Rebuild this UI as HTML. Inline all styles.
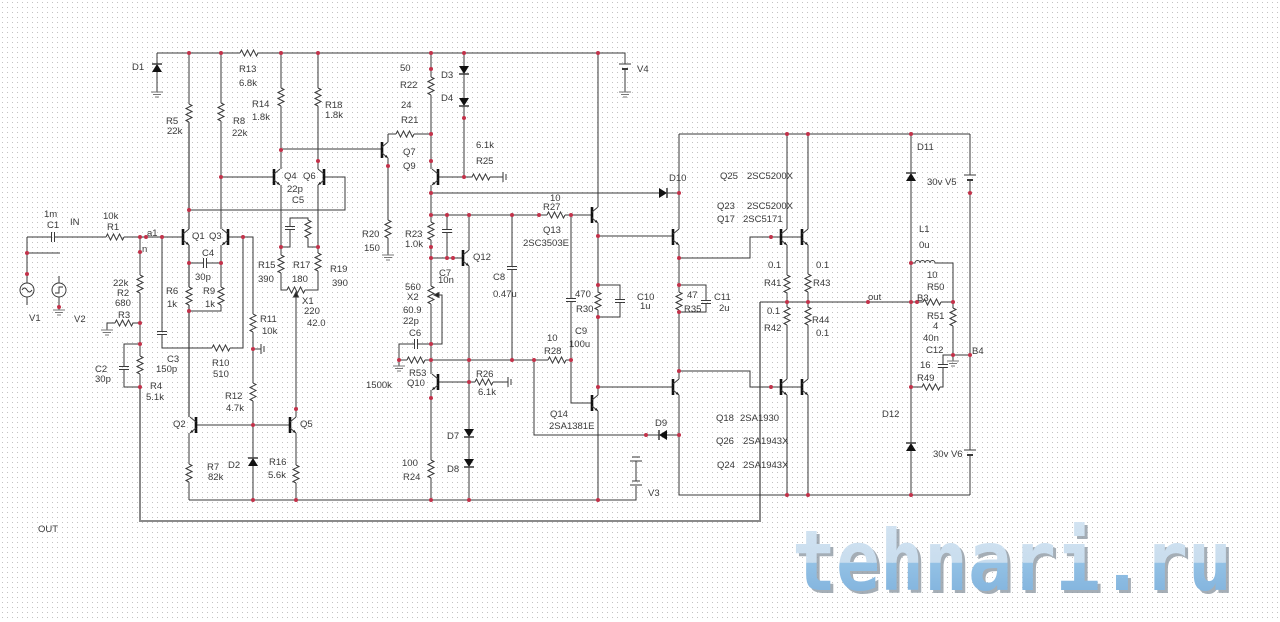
<!DOCTYPE html>
<html><head><meta charset="utf-8"><style>
html,body{margin:0;padding:0;background:#fff;}
svg{display:block;}
.t{font-family:"Liberation Sans",sans-serif;font-size:9.5px;fill:#3a3a3a;}
</style></head><body>
<svg width="1280" height="622" viewBox="0 0 1280 622" xmlns="http://www.w3.org/2000/svg">
<defs>
<pattern id="grid" width="5" height="5" patternUnits="userSpaceOnUse"><rect x="2" y="2" width="1" height="1" fill="#c2c2c2"/></pattern>
<path id="rv" d="M0,0 l3,1.5 -6,3 6,3 -6,3 6,3 -6,3 3,1.5"/>
<path id="rh" d="M0,0 l1.5,-3 3,6 3,-6 3,6 3,-6 3,6 1.5,-3"/>
<path id="cv" d="M-5,-1.5 H5 M-5,1.5 H5"/>
<path id="ch" d="M-1.5,-5 V5 M1.5,-5 V5"/>
<g id="dd"><path d="M-5,-4 L5,-4 L0,4 Z" fill="#111" stroke="none"/><path d="M-5,4 H5" stroke-width="1.5"/></g>
<g id="du"><path d="M-5,4 L5,4 L0,-4 Z" fill="#111" stroke="none"/><path d="M-5,-4 H5" stroke-width="1.5"/></g>
<g id="dr"><path d="M-4,-5 L-4,5 L4,0 Z" fill="#111" stroke="none"/><path d="M4,-5 V5" stroke-width="1.5"/></g>
<g id="dl"><path d="M4,-5 L4,5 L-4,0 Z" fill="#111" stroke="none"/><path d="M-4,-5 V5" stroke-width="1.5"/></g>
<path id="gnd" d="M-6,0 H6 M-4,2.5 H4 M-2,5 H2"/>
<path id="gc" d="M0,-5 V5 M3,-3 V3"/>
<g id="q"><path d="M0,-8 V8" stroke="#111" stroke-width="2.6"/><path d="M0,-3 L6,-8 M0,3 L6,8"/><path d="M6,8 L2.5,7 L4.5,5 Z" fill="#222" stroke="none"/></g>
<linearGradient id="wm" x1="0" y1="518" x2="0" y2="592" gradientUnits="userSpaceOnUse">
<stop offset="0" stop-color="#d3e4f2"/><stop offset="0.6" stop-color="#c9ddee"/><stop offset="0.61" stop-color="#93c1e5"/><stop offset="1" stop-color="#84b5de"/></linearGradient>
</defs>
<rect width="1280" height="622" fill="#fff"/>
<rect width="1280" height="622" fill="url(#grid)"/>

<!-- watermark -->
<g font-family="'DejaVu Sans Mono',monospace" font-weight="bold" font-size="84">
<text x="795" y="593" textLength="440" lengthAdjust="spacingAndGlyphs" fill="#8f9aa4" opacity="0.8">tehnari.ru</text>
<text x="792" y="590" textLength="440" lengthAdjust="spacingAndGlyphs" fill="url(#wm)">tehnari.ru</text>
</g>

<!-- thick grey wires -->
<g fill="none" stroke="#8a8a8a" stroke-width="2">
<path d="M140,387 V521 H760 V302"/>
<path d="M189,122 V229 M189,245 V287 M189,305 V417"/>
</g>

<!-- wires -->
<g fill="none" stroke="#3a3a3a" stroke-width="1">
<path d="M157,53 H240 M258,53 H625 V64 M625,69 V92"/>
<path d="M619,64 H631"/><path d="M622,69 H628" stroke-width="2"/>
<path d="M157,53 V64 M157,72 V92"/>
<path d="M189,53 V104 M189,433 V464 M189,482 V500"/>
<path d="M221,53 V103 M221,121 V229 M221,245 V287 M221,305 V311 H189"/>
<path d="M221,177 H274"/>
<path d="M189,263 H203.5 M206.5,263 H221"/>
<path d="M281,53 V88 M281,106 V169 M281,185 V255 M281,273 V290 H287 M305,290 H318 V271 M318,253 V185 M318,169 V106 M318,88 V53"/>
<path d="M296,297 V417 M296,433 V465 M296,483 V500"/>
<path d="M324,177 H345 V210 H189"/>
<path d="M281,149 H382"/>
<path d="M281,247 H290 V229.5 M290,226.5 V218 H308 V220 M308,238 V247 H318"/>
<path d="M27,237 H51.5 M54.5,237 H106 M124,237 H183"/>
<path d="M27,237 V283 M27,297 V305 M27,253 H60"/>
<path d="M59,276 V283 M59,297 V310"/>
<path d="M140,237 V275 M140,293 V356 M140,374 V387"/>
<path d="M760,302 H911"/>
<path d="M107,330 V323 H115 M133,323 H140"/>
<path d="M140,344 H124 V366.5 M124,369.5 V387 H140"/>
<path d="M162,237 V331.5 M162,334.5 V348 H212 M230,348 H243 V237"/>
<path d="M228,237 H253 V314 M253,332 V383 M253,401 V458 M253,466 V500"/>
<path d="M253,349 H261"/>
<path d="M196,425 H290"/>
<path d="M189,500 H636 V486 M636,481 V461"/>
<path d="M630,485 H642 M632,481 H640 M630,461 H642 M632,457 H640"/>
<path d="M388,134 V142 M388,158 V220 M388,238 V255"/>
<path d="M388,134 H396 M414,134 H431"/>
<path d="M431,53 V77 M431,95 V169 M431,185 V222 M431,240 V286 M431,304 V374 M431,390 V460 M431,478 V500"/>
<path d="M439,295 H442 V344 H431"/>
<path d="M399,366 V344 H414.5 M417.5,344 H431"/>
<path d="M399,360 H407 M425,360 H431"/>
<path d="M431,360 H548 M566,360 H571"/>
<path d="M534,360 V435 H659 M667,435 H679"/>
<path d="M431,215 H547 M565,215 H592"/>
<path d="M431,258 H463"/>
<path d="M447,215 V229.5 M447,232.5 V258"/>
<path d="M469,215 V250 M469,266 V429 M469,437 V459 M469,467 V500"/>
<path d="M512,215 V266.5 M512,269.5 V360"/>
<path d="M571,215 V298.5 M571,301.5 V403 H592"/>
<path d="M438,382 H475 M493,382 H508"/>
<path d="M438,177 H472 M490,177 H503"/>
<path d="M464,53 V66 M464,74 V98 M464,106 V177"/>
<path d="M431,193 H659 M667,193 H679"/>
<path d="M598,53 V207 M598,223 V292 M598,310 V395 M598,411 V500"/>
<path d="M598,285 H620 V299.5 M620,302.5 V317 H598"/>
<path d="M598,236 H673 M598,387 H673"/>
<path d="M679,134 H970"/>
<path d="M679,134 V229 M679,245 V292 M679,310 V379 M679,395 V495 H970"/>
<path d="M679,285 H706 V300.5 M706,303.5 V312 H679"/>
<path d="M679,258 H750 V237 H802 M679,371 H750 V387 H802"/>
<path d="M787,134 V229 M787,245 V275 M787,293 V307 M787,325 V379 M787,395 V495"/>
<path d="M808,134 V229 M808,245 V274 M808,292 V307 M808,325 V379 M808,395 V495"/>
<path d="M911,134 V173 M911,181 V443 M911,451 V495"/>
<path d="M911,263 H915 a2.5,2.5 0 0 1 5,0 a2.5,2.5 0 0 1 5,0 a2.5,2.5 0 0 1 5,0 a2.5,2.5 0 0 1 5,0 H953 V308 M953,326 V355 H970"/>
<path d="M911,302 H923 M941,302 H953"/>
<path d="M953,355 H943 V364.5 M943,367.5 V387 H940 M922,387 H911"/>
<path d="M953,355 V361"/>
<path d="M970,134 V175 M970,180 V450 M970,455 V495"/>
<path d="M964,175 H976 M964,450 H976"/><path d="M967,180 H973 M967,455 H973" stroke-width="2"/>
<path d="M293.5,297 L296,292 L298.5,297 Z" fill="#222"/>
<path d="M434,295 L439,292.5 L439,297.5 Z" fill="#222"/>

<!-- resistors -->
<use href="#rh" x="240" y="53"/>
<use href="#rv" x="189" y="104"/><use href="#rv" x="221" y="103"/>
<use href="#rv" x="281" y="88"/><use href="#rv" x="318" y="88"/>
<use href="#rv" x="189" y="287"/><use href="#rv" x="221" y="287"/>
<use href="#rv" x="281" y="255"/><use href="#rv" x="318" y="253"/>
<use href="#rv" x="308" y="220"/><use href="#rh" x="287" y="290"/>
<use href="#rh" x="106" y="237"/><use href="#rv" x="140" y="275"/><use href="#rv" x="140" y="356"/>
<use href="#rh" x="115" y="323"/><use href="#rh" x="212" y="348"/>
<use href="#rv" x="253" y="314"/><use href="#rv" x="253" y="383"/>
<use href="#rv" x="189" y="464"/><use href="#rv" x="296" y="465"/>
<use href="#rh" x="396" y="134"/><use href="#rv" x="388" y="220"/>
<use href="#rv" x="431" y="77"/><use href="#rv" x="431" y="222"/><use href="#rv" x="431" y="286"/><use href="#rv" x="431" y="460"/>
<use href="#rh" x="407" y="360"/><use href="#rh" x="548" y="360"/><use href="#rh" x="547" y="215"/>
<use href="#rh" x="475" y="382"/><use href="#rh" x="472" y="177"/>
<use href="#rv" x="598" y="292"/><use href="#rv" x="679" y="292"/>
<use href="#rv" x="787" y="275"/><use href="#rv" x="787" y="307"/><use href="#rv" x="808" y="274"/><use href="#rv" x="808" y="307"/>
<use href="#rv" x="953" y="308"/><use href="#rh" x="923" y="302"/><use href="#rh" x="922" y="387"/>

<!-- capacitors -->
<use href="#ch" x="205" y="263"/><use href="#cv" x="290" y="228"/>
<use href="#ch" x="53" y="237"/><use href="#cv" x="124" y="368"/><use href="#cv" x="162" y="333"/>
<use href="#ch" x="416" y="344"/><use href="#cv" x="447" y="231"/><use href="#cv" x="512" y="268"/>
<use href="#cv" x="571" y="300"/><use href="#cv" x="620" y="301"/><use href="#cv" x="706" y="302"/><use href="#cv" x="943" y="366"/>

<!-- grounds -->
<g stroke="#777"><use href="#gnd" x="157" y="92"/><use href="#gnd" x="625" y="92"/><use href="#gnd" x="59" y="310"/>
<use href="#gnd" x="107" y="330"/><use href="#gnd" x="388" y="255"/><use href="#gnd" x="399" y="366"/><use href="#gnd" x="953" y="361"/></g>
<use href="#gc" x="261" y="349"/><use href="#gc" x="503" y="177"/><use href="#gc" x="508" y="382"/>

<!-- diodes -->
<use href="#du" x="157" y="68"/><use href="#du" x="253" y="462"/>
<use href="#dd" x="464" y="70"/><use href="#dd" x="464" y="102"/>
<use href="#dd" x="469" y="433"/><use href="#dd" x="469" y="463"/>
<use href="#dr" x="663" y="193"/><use href="#dl" x="663" y="435"/>
<use href="#du" x="911" y="177"/><use href="#du" x="911" y="447"/>

<!-- sources -->
<circle cx="27" cy="290" r="7"/><path d="M22,290 q2.5,-4 5,0 t5,0"/>
<circle cx="59" cy="290" r="7"/><path d="M55,293 H59 V287 H63"/>

<!-- transistors -->
<use href="#q" x="183" y="237"/>
<use href="#q" transform="translate(228,237) scale(-1,1)"/>
<use href="#q" x="274" y="177"/>
<use href="#q" transform="translate(324,177) scale(-1,1)"/>
<use href="#q" x="382" y="150"/>
<use href="#q" transform="translate(438,177) scale(-1,1)"/>
<use href="#q" x="463" y="258"/>
<use href="#q" transform="translate(438,382) scale(-1,1)"/>
<use href="#q" x="592" y="215"/>
<use href="#q" x="592" y="403"/>
<use href="#q" transform="translate(196,425) scale(-1,1)"/>
<use href="#q" x="290" y="425"/>
<use href="#q" x="673" y="237"/>
<use href="#q" x="781" y="237"/>
<use href="#q" x="802" y="237"/>
<use href="#q" x="673" y="387"/>
<use href="#q" x="781" y="387"/>
<use href="#q" x="802" y="387"/>
</g>

<!-- junction dots -->
<g fill="#c2324a">
<circle cx="189" cy="53" r="2"/><circle cx="221" cy="53" r="2"/><circle cx="281" cy="53" r="2"/><circle cx="318" cy="53" r="2"/>
<circle cx="431" cy="53" r="2"/><circle cx="464" cy="53" r="2"/><circle cx="598" cy="53" r="2"/>
<circle cx="189" cy="210" r="2"/><circle cx="221" cy="177" r="2"/><circle cx="281" cy="150" r="2"/><circle cx="318" cy="161" r="2"/>
<circle cx="140" cy="237" r="2"/><circle cx="146" cy="237" r="2"/><circle cx="162" cy="237" r="2"/><circle cx="140" cy="252" r="2"/>
<circle cx="27" cy="253" r="2"/><circle cx="27" cy="274" r="2"/><circle cx="59" cy="307" r="2"/>
<circle cx="189" cy="263" r="2"/><circle cx="221" cy="263" r="2"/><circle cx="189" cy="311" r="2"/>
<circle cx="243" cy="237" r="2"/><circle cx="281" cy="247" r="2"/><circle cx="318" cy="247" r="2"/>
<circle cx="140" cy="323" r="2"/><circle cx="140" cy="344" r="2"/><circle cx="140" cy="387" r="2"/>
<circle cx="253" cy="349" r="2"/><circle cx="253" cy="425" r="2"/><circle cx="296" cy="409" r="2"/>
<circle cx="253" cy="500" r="2"/><circle cx="296" cy="500" r="2"/><circle cx="431" cy="500" r="2"/><circle cx="469" cy="500" r="2"/><circle cx="598" cy="500" r="2"/>
<circle cx="431" cy="69" r="2"/><circle cx="431" cy="134" r="2"/><circle cx="388" cy="166" r="2"/><circle cx="431" cy="161" r="2"/>
<circle cx="464" cy="118" r="2"/><circle cx="464" cy="177" r="2"/><circle cx="431" cy="193" r="2"/>
<circle cx="431" cy="215" r="2"/><circle cx="447" cy="215" r="2"/><circle cx="469" cy="215" r="2"/><circle cx="512" cy="215" r="2"/><circle cx="539" cy="215" r="2"/><circle cx="571" cy="215" r="2"/>
<circle cx="431" cy="247" r="2"/><circle cx="431" cy="258" r="2"/><circle cx="447" cy="258" r="2"/><circle cx="453" cy="258" r="2"/>
<circle cx="431" cy="344" r="2"/><circle cx="399" cy="360" r="2"/><circle cx="431" cy="360" r="2"/><circle cx="469" cy="360" r="2"/>
<circle cx="512" cy="360" r="2"/><circle cx="534" cy="360" r="2"/><circle cx="571" cy="360" r="2"/>
<circle cx="469" cy="382" r="2"/><circle cx="431" cy="398" r="2"/>
<circle cx="598" cy="236" r="2"/><circle cx="598" cy="285" r="2"/><circle cx="598" cy="317" r="2"/><circle cx="598" cy="387" r="2"/>
<circle cx="679" cy="193" r="2"/><circle cx="679" cy="258" r="2"/><circle cx="679" cy="285" r="2"/><circle cx="679" cy="312" r="2"/>
<circle cx="679" cy="371" r="2"/><circle cx="679" cy="435" r="2"/><circle cx="646" cy="435" r="2"/>
<circle cx="787" cy="134" r="2"/><circle cx="808" cy="134" r="2"/><circle cx="911" cy="134" r="2"/>
<circle cx="771" cy="237" r="2"/><circle cx="771" cy="387" r="2"/>
<circle cx="787" cy="302" r="2"/><circle cx="808" cy="302" r="2"/><circle cx="868" cy="302" r="2"/><circle cx="911" cy="302" r="2"/><circle cx="917" cy="302" r="2"/><circle cx="953" cy="302" r="2"/>
<circle cx="911" cy="263" r="2"/><circle cx="953" cy="355" r="2"/><circle cx="970" cy="355" r="2"/><circle cx="911" cy="387" r="2"/><circle cx="970" cy="193" r="2"/>
<circle cx="787" cy="495" r="2"/><circle cx="808" cy="495" r="2"/><circle cx="911" cy="495" r="2"/>
</g>

<!-- labels -->
<g class="t">
<text x="132" y="70">D1</text>
<text x="239" y="72">R13</text><text x="239" y="86">6.8k</text>
<text x="166" y="124">R5</text><text x="167" y="134">22k</text>
<text x="233" y="124">R8</text><text x="232" y="136">22k</text>
<text x="252" y="107">R14</text><text x="252" y="120">1.8k</text>
<text x="325" y="108">R18</text><text x="325" y="118">1.8k</text>
<text x="284" y="179">Q4</text><text x="303" y="179">Q6</text>
<text x="287" y="192">22p</text><text x="292" y="203">C5</text>
<text x="44" y="217">1m</text><text x="47" y="228">C1</text><text x="70" y="225">IN</text>
<text x="103" y="219">10k</text><text x="107" y="230">R1</text>
<text x="147" y="236">a1</text><text x="142" y="252">n</text>
<text x="192" y="239">Q1</text><text x="209" y="239">Q3</text>
<text x="202" y="256">C4</text><text x="195" y="280">30p</text>
<text x="113" y="286">22k</text><text x="117" y="296">R2</text><text x="115" y="306">680</text><text x="118" y="318">R3</text>
<text x="166" y="294">R6</text><text x="167" y="307">1k</text>
<text x="203" y="294">R9</text><text x="205" y="307">1k</text>
<text x="258" y="268">R15</text><text x="258" y="282">390</text>
<text x="293" y="268">R17</text><text x="292" y="282">180</text>
<text x="330" y="272">R19</text><text x="332" y="286">390</text>
<text x="302" y="304">X1</text><text x="304" y="314">220</text><text x="307" y="326">42.0</text>
<text x="260" y="322">R11</text><text x="262" y="334">10k</text>
<text x="95" y="372">C2</text><text x="95" y="382">30p</text>
<text x="167" y="362">C3</text><text x="156" y="372">150p</text>
<text x="212" y="366">R10</text><text x="213" y="377">510</text>
<text x="150" y="389">R4</text><text x="146" y="400">5.1k</text>
<text x="225" y="399">R12</text><text x="226" y="411">4.7k</text>
<text x="29" y="321">V1</text><text x="74" y="322">V2</text>
<text x="173" y="427">Q2</text><text x="300" y="427">Q5</text>
<text x="207" y="470">R7</text><text x="208" y="480">82k</text>
<text x="228" y="468">D2</text>
<text x="269" y="465">R16</text><text x="268" y="478">5.6k</text>
<text x="38" y="532">OUT</text>
<text x="400" y="71">50</text><text x="400" y="88">R22</text><text x="401" y="108">24</text><text x="401" y="123">R21</text>
<text x="441" y="78">D3</text><text x="441" y="101">D4</text>
<text x="403" y="155">Q7</text><text x="403" y="169">Q9</text>
<text x="476" y="148">6.1k</text><text x="476" y="164">R25</text>
<text x="637" y="72">V4</text>
<text x="550" y="201">10</text><text x="543" y="210">R27</text>
<text x="543" y="233">Q13</text><text x="523" y="246">2SC3503E</text>
<text x="473" y="260">Q12</text>
<text x="493" y="280">C8</text><text x="493" y="297">0.47u</text>
<text x="575" y="297">470</text><text x="576" y="312">R30</text>
<text x="637" y="300">C10</text><text x="640" y="309">1u</text>
<text x="575" y="334">C9</text><text x="569" y="347">100u</text>
<text x="547" y="341">10</text><text x="544" y="354">R28</text>
<text x="476" y="377">R26</text><text x="478" y="395">6.1k</text>
<text x="550" y="417">Q14</text><text x="549" y="429">2SA1381E</text>
<text x="362" y="237">R20</text><text x="364" y="251">150</text>
<text x="405" y="237">R23</text><text x="405" y="247">1.0k</text>
<text x="439" y="276">C7</text><text x="438" y="283">10n</text>
<text x="405" y="290">560</text><text x="407" y="300">X2</text><text x="403" y="313">60.9</text><text x="403" y="324">22p</text><text x="409" y="336">C6</text>
<text x="409" y="376">R53</text><text x="407" y="386">Q10</text><text x="366" y="388">1500k</text>
<text x="447" y="439">D7</text><text x="447" y="472">D8</text>
<text x="402" y="466">100</text><text x="403" y="480">R24</text>
<text x="648" y="496">V3</text>
<text x="669" y="181">D10</text>
<text x="720" y="179">Q25</text><text x="747" y="179">2SC5200X</text>
<text x="717" y="209">Q23</text><text x="747" y="209">2SC5200X</text>
<text x="717" y="222">Q17</text><text x="743" y="222">2SC5171</text>
<text x="917" y="150">D11</text>
<text x="919" y="232">L1</text><text x="919" y="248">0u</text>
<text x="768" y="268">0.1</text><text x="764" y="286">R41</text>
<text x="816" y="268">0.1</text><text x="813" y="286">R43</text>
<text x="687" y="298">47</text><text x="684" y="312">R35</text>
<text x="714" y="300">C11</text><text x="719" y="311">2u</text>
<text x="868" y="300">out</text><text x="917" y="301">B3</text>
<text x="927" y="278">10</text><text x="927" y="290">R50</text>
<text x="927" y="319">R51</text><text x="933" y="329">4</text><text x="923" y="341">40n</text><text x="926" y="353">C12</text>
<text x="920" y="368">16</text><text x="917" y="381">R49</text>
<text x="927" y="185">30v V5</text><text x="933" y="457">30v V6</text>
<text x="972" y="354">B4</text>
<text x="882" y="417">D12</text>
<text x="767" y="314">0.1</text><text x="764" y="331">R42</text>
<text x="812" y="323">R44</text><text x="816" y="336">0.1</text>
<text x="716" y="421">Q18</text><text x="740" y="421">2SA1930</text>
<text x="716" y="444">Q26</text><text x="743" y="444">2SA1943X</text>
<text x="717" y="468">Q24</text><text x="743" y="468">2SA1943X</text>
<text x="655" y="426">D9</text>
</g>
</svg>
</body></html>
